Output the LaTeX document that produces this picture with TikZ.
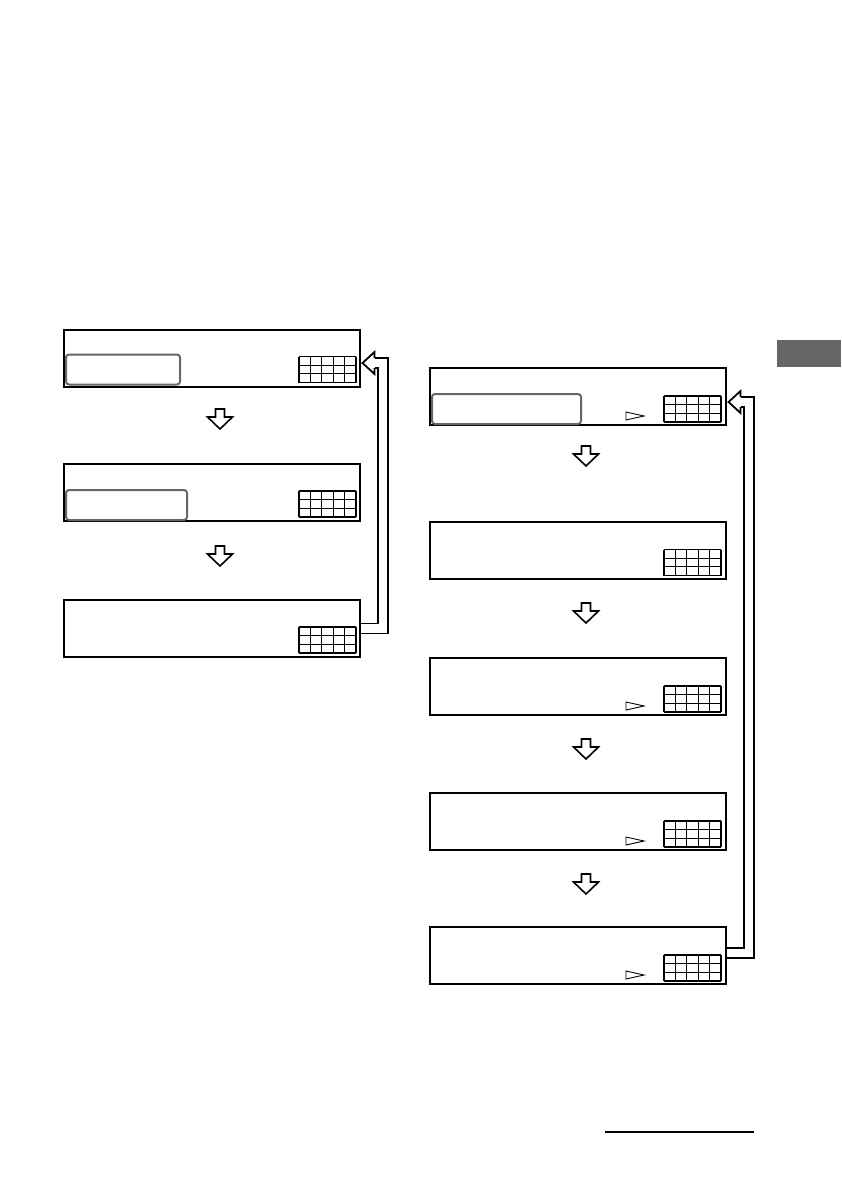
\documentclass[tikz,border=0pt]{standalone}
\usetikzlibrary{calc}
\begin{document}
\begin{tikzpicture}[x=1pt,y=-1pt,
  dispbox/.style={draw, line width=2pt, minimum width=296pt, minimum height=57pt, inner sep=0pt},
  lcdframe/.style={draw=black!60, line width=2pt, rounded corners=3pt},
  hollow/.style={draw, line width=1.8pt, double=white, double distance=8.2pt},
  headline/.style={draw, line width=1.8pt, line join=miter},
  lcdgrid/.pic={
    \foreach \i in {0,...,5} \draw[line width=1.1pt] (\i*11.4,0) -- (\i*11.4,26);
    \foreach \j in {0,...,3} \draw[line width=1.1pt] (0,\j*8.667) -- (57,\j*8.667);
  },
  playtri/.pic={\draw[line width=0.9pt] (0,0) -- (18,4) -- (0,8) -- cycle;},
  downarr/.pic={\draw[line width=1.6pt, line join=miter] (-4.5,-10) -- (4.5,-10) -- (4.5,-2) -- (12.5,-2) -- (0,10) -- (-12.5,-2) -- (-4.5,-2) -- cycle;}
]
\useasboundingbox (0,0) rectangle (841,1191);

% left column
\node[dispbox] (L1) at (212,358) {};
\node[dispbox] (L2) at (212,492.5) {};
\node[dispbox] (L3) at (212,628.5) {};
% right column
\node[dispbox] (R1) at (578,396.5) {};
\node[dispbox] (R2) at (578,550) {};
\node[dispbox] (R3) at (578,686.5) {};
\node[dispbox] (R4) at (578,821.5) {};
\node[dispbox] (R5) at (578,955.5) {};

% grids
\foreach \b in {L1,L2,L3} \pic at ($(\b.south east)+(-62,-31)$) {lcdgrid};
\foreach \b in {R1,R2,R3,R4,R5} \pic at ($(\b.south east)+(-63,-30)$) {lcdgrid};

% rounded frames
\draw[lcdframe] ($(L1.south west)+(3,-3)$) rectangle ($(L1.south west)+(117,-33)$);
\draw[lcdframe] ($(L2.south west)+(3,-2)$) rectangle ($(L2.south west)+(124,-32)$);
\draw[lcdframe] ($(R1.south west)+(3,-2)$) rectangle ($(R1.south west)+(152,-32)$);

% play triangles
\foreach \b in {R1,R3,R4,R5} \pic at ($(\b.south east)+(-101,-14)$) {playtri};

% down arrows
\pic at (220,419) {downarr};
\pic at (220,556) {downarr};
\pic at (586,456) {downarr};
\pic at (586,613) {downarr};
\pic at (586,749) {downarr};
\pic at (586,884) {downarr};

% left loop arrow
\coordinate (lt) at ($(L1.east)+(1.5,5)$);
\draw[hollow] (L3.east) -- ++(22,0) |- ($(lt)+(12,0)$);
\draw[headline] ($(lt)+(12,-5)$) -- ++(0,-6) -- (lt) -- ($(lt)+(12,11)$) -- ++(0,-6);

% right loop arrow
\coordinate (rt) at ($(R1.east)+(1.5,5.5)$);
\draw[hollow] ($(R5.east)+(0,-2.5)$) -- ++(22,0) |- ($(rt)+(12,0)$);
\draw[headline] ($(rt)+(12,-5)$) -- ++(0,-6) -- (rt) -- ($(rt)+(12,11)$) -- ++(0,-6);

% gray tab
\fill[black!60] (777,340) rectangle (841,367);
% bottom rule
\draw[line width=1.3pt] (605,1132) -- (754,1132);
\end{tikzpicture}
\end{document}
